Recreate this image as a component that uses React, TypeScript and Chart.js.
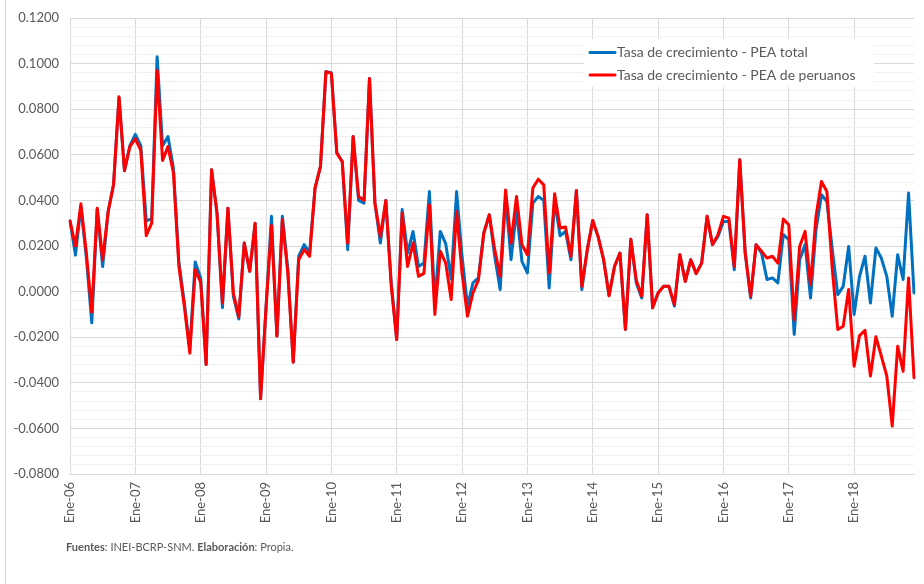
import React, { useEffect, useRef } from "react";
import { Chart, registerables } from "chart.js";

Chart.register(...registerables);

const MONTHS = ["Ene", "Feb", "Mar", "Abr", "May", "Jun", "Jul", "Ago", "Set", "Oct", "Nov", "Dic"];
const YEARS = ["06", "07", "08", "09", "10", "11", "12", "13", "14", "15", "16", "17", "18"];
const LABELS = YEARS.flatMap((y) => MONTHS.map((m) => `${m}-${y}`));

const SERIES_NAMES = ["Tasa de crecimiento - PEA total", "Tasa de crecimiento - PEA de peruanos"];

const PEA_TOTAL = [
  0.031, 0.016, 0.037, 0.015, -0.0137, 0.036, 0.011, 0.035, 0.047, 0.085, 0.053, 0.064,
  0.069, 0.064, 0.031, 0.032, 0.103, 0.064, 0.068, 0.054, 0.013, -0.005, -0.025, 0.013,
  0.006, -0.032, 0.0534, 0.0344, -0.007, 0.0366, -0.002, -0.012, 0.0213, 0.0089, 0.03, -0.047,
  -0.007, 0.033, -0.0195, 0.033, 0.01, -0.031, 0.0155, 0.0206, 0.017, 0.0454, 0.0549, 0.0964,
  0.096, 0.061, 0.057, 0.0184, 0.068, 0.04, 0.0388, 0.0935, 0.0388, 0.0213, 0.04, 0.0038,
  -0.021, 0.036, 0.017, 0.0264, 0.011, 0.0125, 0.0439, -0.005, 0.0264, 0.021, 0.0055, 0.0439,
  0.0155, -0.0064, 0.0038, 0.006, 0.0257, 0.0337, 0.0155, 0.0009, 0.0417, 0.014, 0.0359, 0.0133,
  0.0082, 0.0388, 0.0417, 0.04, 0.0016, 0.04, 0.0245, 0.0264, 0.014, 0.0443, 0.0009, 0.0184,
  0.0312, 0.024, 0.014, -0.0018, 0.011, 0.0169, -0.0166, 0.023, 0.0038, -0.0028, 0.0337, -0.0071,
  -0.0006, 0.0023, 0.0023, -0.0064, 0.0162, 0.0045, 0.014, 0.0079, 0.0125, 0.033, 0.0206, 0.0242,
  0.0308, 0.0308, 0.0096, 0.0578, 0.0169, -0.0028, 0.0206, 0.0169, 0.0053, 0.006, 0.0038, 0.025,
  0.0228, -0.0188, 0.014, 0.0206, -0.0028, 0.027, 0.0425, 0.0395, 0.0184, -0.0013, 0.0023, 0.0198,
  -0.01, 0.0067, 0.0155, -0.005, 0.0191, 0.0147, 0.0067, -0.0108, 0.0162, 0.0053, 0.0432, -0.0006,
];

const PEA_PERUANOS = [
  0.031, 0.02, 0.0385, 0.017, -0.009, 0.0366, 0.014, 0.035, 0.047, 0.0855, 0.053, 0.0636,
  0.067, 0.062, 0.0245, 0.03, 0.097, 0.0575, 0.0636, 0.052, 0.011, -0.0064, -0.027, 0.0096,
  0.004, -0.032, 0.0534, 0.0344, -0.005, 0.0366, -0.0006, -0.011, 0.0213, 0.0089, 0.03, -0.047,
  -0.007, 0.029, -0.0195, 0.0315, 0.008, -0.031, 0.014, 0.0184, 0.0155, 0.0454, 0.0549, 0.0964,
  0.0957, 0.0607, 0.057, 0.0213, 0.068, 0.0417, 0.04, 0.0935, 0.0388, 0.0242, 0.04, 0.0023,
  -0.021, 0.0344, 0.011, 0.0213, 0.0067, 0.008, 0.038, -0.01, 0.0177, 0.0125, -0.0035, 0.0352,
  0.008, -0.0108, -0.0006, 0.005, 0.0257, 0.0337, 0.0184, 0.0067, 0.0446, 0.0213, 0.0417, 0.0206,
  0.0162, 0.0454, 0.0493, 0.0468, 0.0082, 0.0429, 0.0279, 0.0283, 0.0155, 0.0443, 0.0023, 0.0184,
  0.0312, 0.024, 0.014, -0.0018, 0.011, 0.0169, -0.0166, 0.023, 0.005, -0.002, 0.0337, -0.0071,
  -0.0006, 0.0023, 0.0023, -0.0057, 0.0162, 0.0045, 0.014, 0.0079, 0.0125, 0.033, 0.0206, 0.025,
  0.033, 0.0322, 0.011, 0.0578, 0.0169, -0.002, 0.0206, 0.0177, 0.0147, 0.0155, 0.0125, 0.0318,
  0.0293, -0.0123, 0.0198, 0.0264, 0.003, 0.033, 0.0483, 0.0439, 0.0096, -0.0166, -0.0152, 0.0009,
  -0.0327, -0.0193, -0.017, -0.037, -0.0198, -0.0283, -0.037, -0.059, -0.024, -0.0349, 0.006, -0.0378,
];

const COLORS = ["#0070C0", "#FF0000"];
const FONT = "Lato, 'Open Sans', sans-serif";
const TEXT_COLOR = "#595959";

const isMajor = (v: number) => Math.abs(v / 0.02 - Math.round(v / 0.02)) < 1e-6;

const legendPlugin = {
  id: "insideLegend",
  afterDraw(chart: any) {
    const ctx = chart.ctx as CanvasRenderingContext2D;
    ctx.save();
    ctx.fillStyle = "#ffffff";
    ctx.fillRect(584, 39, 290, 48);
    const rows = [52.5, 75];
    SERIES_NAMES.forEach((name, i) => {
      const y = rows[i];
      ctx.strokeStyle = COLORS[i];
      ctx.lineWidth = 3;
      ctx.lineCap = "round";
      ctx.beginPath();
      ctx.moveTo(590, y);
      ctx.lineTo(615, y);
      ctx.stroke();
      ctx.fillStyle = TEXT_COLOR;
      ctx.font = `14px ${FONT}`;
      ctx.textBaseline = "middle";
      ctx.textAlign = "left";
      ctx.fillText(name, 617, y);
    });
    ctx.restore();
  },
};

export default function App() {
  const canvasRef = useRef<HTMLCanvasElement | null>(null);

  useEffect(() => {
    document.body.style.margin = "0";
    const canvas = canvasRef.current;
    if (!canvas) return;
    const chart = new Chart(canvas, {
      type: "line",
      data: {
        labels: LABELS,
        datasets: [
          {
            label: SERIES_NAMES[0],
            data: PEA_TOTAL,
            borderColor: COLORS[0],
            backgroundColor: COLORS[0],
            borderWidth: 3,
            pointRadius: 0,
            tension: 0,
            borderJoinStyle: "round",
            borderCapStyle: "round",
            order: 1,
          },
          {
            label: SERIES_NAMES[1],
            data: PEA_PERUANOS,
            borderColor: COLORS[1],
            backgroundColor: COLORS[1],
            borderWidth: 3,
            pointRadius: 0,
            tension: 0,
            borderJoinStyle: "round",
            borderCapStyle: "round",
            order: 0,
          },
        ],
      },
      options: {
        responsive: false,
        animation: false,
        devicePixelRatio: 1,
        layout: { padding: { top: 18, right: 10, left: 0, bottom: 0 } },
        plugins: {
          legend: { display: false },
          tooltip: { enabled: false },
        },
        scales: {
          x: {
            type: "category",
            offset: false,
            grid: {
              color: (c: any) => (c.index % 12 === 0 ? "#d9d9d9" : "rgba(0,0,0,0)"),
              drawTicks: false,
              lineWidth: 1,
            },
            border: { display: true, color: "#d9d9d9" },
            ticks: {
              autoSkip: false,
              maxRotation: 90,
              minRotation: 90,
              padding: 8,
              color: TEXT_COLOR,
              font: { family: FONT, size: 13 },
              callback: (_v: any, i: number) => (i % 12 === 0 ? LABELS[i] : ""),
            },
            afterFit: (s: any) => {
              s.height = 110;
              s.paddingLeft = 0;
              s.paddingRight = 0;
            },
          },
          y: {
            min: -0.08,
            max: 0.12,
            grid: {
              color: (c: any) => (c.tick && isMajor(c.tick.value) ? "#d9d9d9" : "#f0f0f0"),
              drawTicks: false,
              lineWidth: 1,
            },
            border: { display: false },
            ticks: {
              stepSize: 0.004,
              maxTicksLimit: 1000,
              autoSkip: false,
              padding: 11,
              color: TEXT_COLOR,
              font: { family: FONT, size: 13 },
              callback: (v: any) => (isMajor(Number(v)) ? Number(v).toFixed(4) : ""),
            },
            afterFit: (s: any) => {
              s.width = 70;
              s.paddingTop = 0;
              s.paddingBottom = 0;
            },
          },
        },
      },
      plugins: [legendPlugin],
    });
    return () => chart.destroy();
  }, []);

  return (
    <div style={{ position: "relative", width: 924, height: 584, background: "#ffffff", overflow: "hidden" }}>
      <div style={{ position: "absolute", left: 5, top: 0, width: 1, height: 584, background: "#d9d9d9" }} />
      <canvas ref={canvasRef} width={924} height={584} style={{ display: "block", width: 924, height: 584 }} />
      <div
        style={{
          position: "absolute",
          left: 66,
          top: 540,
          fontFamily: FONT,
          fontSize: 11,
          lineHeight: "14px",
          color: TEXT_COLOR,
          whiteSpace: "nowrap",
        }}
      >
        <b>Fuentes</b>: INEI-BCRP-SNM. <b>Elaboración</b>: Propia.
      </div>
    </div>
  );
}
